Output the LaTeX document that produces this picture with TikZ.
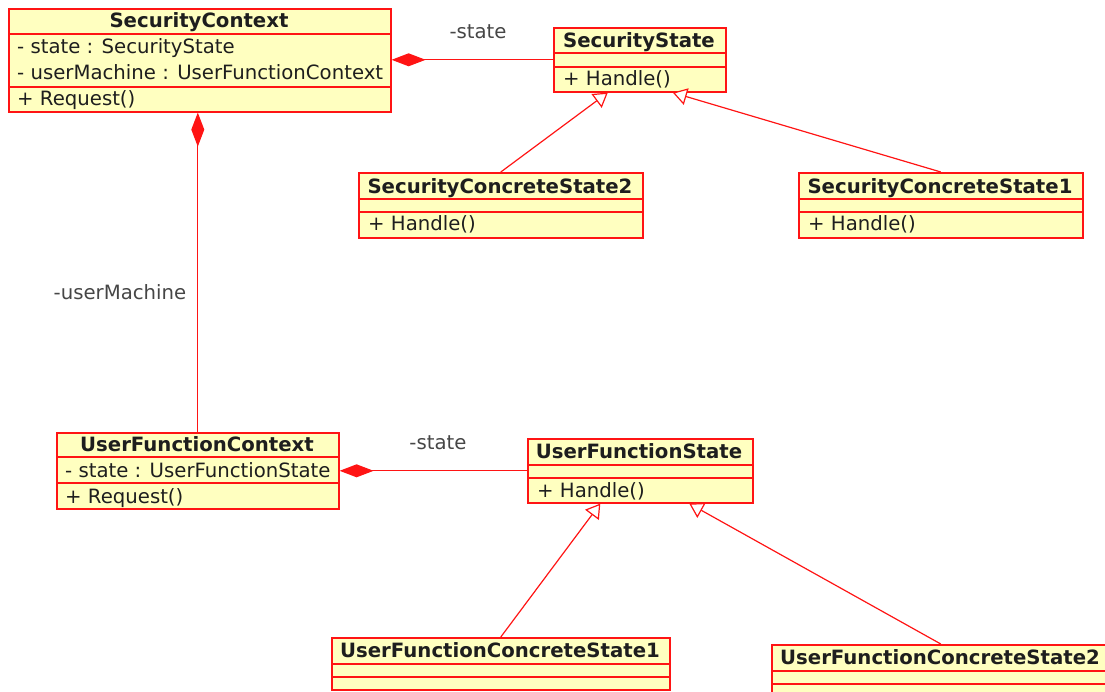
\documentclass[tikz,border=0pt]{standalone}
\usepackage{fontspec}
\setmainfont{DejaVu Sans}
\usetikzlibrary{arrows.meta,positioning}

\definecolor{umlred}{RGB}{255,20,20}
\definecolor{umlfill}{RGB}{255,255,192}
\definecolor{umltext}{RGB}{30,30,30}
\definecolor{umllabel}{RGB}{70,70,70}

\begin{document}
\begin{tikzpicture}[x=1pt,y=-1pt]
		\tikzstyle{Class}	= [rectangle, draw, color=umlred, line width=1.6pt, fill=umlfill, inner sep=0pt, anchor=north west]
		\tikzstyle{Sep}		= [draw=umlred, line width=1.2pt]
		\tikzstyle{Title}	= [font=\bfseries\fontsize{19.7}{20}\selectfont, text=umltext, inner sep=0pt, anchor=base]
		\tikzstyle{Member}	= [font=\fontsize{19.7}{20}\selectfont, text=umltext, inner sep=0pt, anchor=base west]
		\tikzstyle{Role}	= [font=\fontsize{19.7}{20}\selectfont, text=umllabel, inner sep=0pt, anchor=base]
		\tikzstyle{Comp}	= [draw=umlred, line width=1.3pt, -{Diamond[length=34pt, width=13pt, fill=umlred]}]
		\tikzstyle{Inherit}	= [draw=umlred, line width=1.2pt, -{Triangle[open, length=14pt, width=17pt, fill=white]}]

		\clip (0,0) rectangle (1105,691);

		% context classes
		\node (sc) at (8,8) [Class, minimum width=382, minimum height=103] {};
		\draw [Sep] (8,34) -- (390,34);
		\draw [Sep] (8,87) -- (390,87);
		\node (scT) at (199,27) [Title] {SecurityContext};
		\node (scA1) at (17,53) [Member] {- state : SecurityState};
		\node (scA2) at (17,79) [Member] {- userMachine : UserFunctionContext};
		\node (scO1) at (17,105) [Member] {+ Request()};

		\node (ufc) at (56,432) [Class, minimum width=282, minimum height=76] {};
		\draw [Sep] (56,457) -- (338,457);
		\draw [Sep] (56,483) -- (338,483);
		\node (ufcT) at (197,451) [Title] {UserFunctionContext};
		\node (ufcA1) at (65,477) [Member] {- state : UserFunctionState};
		\node (ufcO1) at (65,503) [Member] {+ Request()};

		% state classes
		\node (ss) at (553,27) [Class, minimum width=172, minimum height=64] {};
		\draw [Sep] (553,53) -- (725,53);
		\draw [Sep] (553,67) -- (725,67);
		\node (ssT) at (639,47) [Title] {SecurityState};
		\node (ssO1) at (563,85) [Member] {+ Handle()};

		\node (scs2) at (358,172) [Class, minimum width=284, minimum height=65] {};
		\draw [Sep] (358,199) -- (642,199);
		\draw [Sep] (358,212) -- (642,212);
		\node (scs2T) at (500,193) [Title] {SecurityConcreteState2};
		\node (scs2O1) at (368,230) [Member] {+ Handle()};

		\node (scs1) at (798,172) [Class, minimum width=284, minimum height=65] {};
		\draw [Sep] (798,199) -- (1082,199);
		\draw [Sep] (798,212) -- (1082,212);
		\node (scs1T) at (940,193) [Title] {SecurityConcreteState1};
		\node (scs1O1) at (808,230) [Member] {+ Handle()};

		\node (ufs) at (527,438) [Class, minimum width=225, minimum height=64] {};
		\draw [Sep] (527,465) -- (752,465);
		\draw [Sep] (527,478) -- (752,478);
		\node (ufsT) at (639,458) [Title] {UserFunctionState};
		\node (ufsO1) at (537,497) [Member] {+ Handle()};

		\node (ufcs1) at (331,637) [Class, minimum width=338, minimum height=52] {};
		\draw [Sep] (331,664) -- (669,664);
		\draw [Sep] (331,677) -- (669,677);
		\node (ufcs1T) at (500,657) [Title] {UserFunctionConcreteState1};

		\node (ufcs2) at (771,644) [Class, minimum width=338, minimum height=52] {};
		\draw [Sep] (771,671) -- (1109,671);
		\draw [Sep] (771,684) -- (1109,684);
		\node (ufcs2T) at (940,664) [Title] {UserFunctionConcreteState2};

		% associations
		\draw [Comp] (ss.west) -- (ss.west -| sc.east);
		\draw [Comp] (ufc.north) -- (ufc.north |- sc.south);
		\draw [Comp] (ufs.west) -- (ufs.west -| ufc.east);

		\node (lState1) at (478,38) [Role] {-state};
		\node (lUser) at (120,299) [Role] {-userMachine};
		\node (lState2) at (438,449) [Role] {-state};

		% generalisations
		\draw [Inherit] (scs2.north) -- ([xshift=-32pt]ss.south);
		\draw [Inherit] (scs1.north) -- ([xshift=33pt]ss.south);
		\draw [Inherit] (ufcs1.north) -- ([xshift=-40pt]ufs.south);
		\draw [Inherit] (ufcs2.north) -- ([xshift=49pt]ufs.south);
	\end{tikzpicture}
\end{document}
